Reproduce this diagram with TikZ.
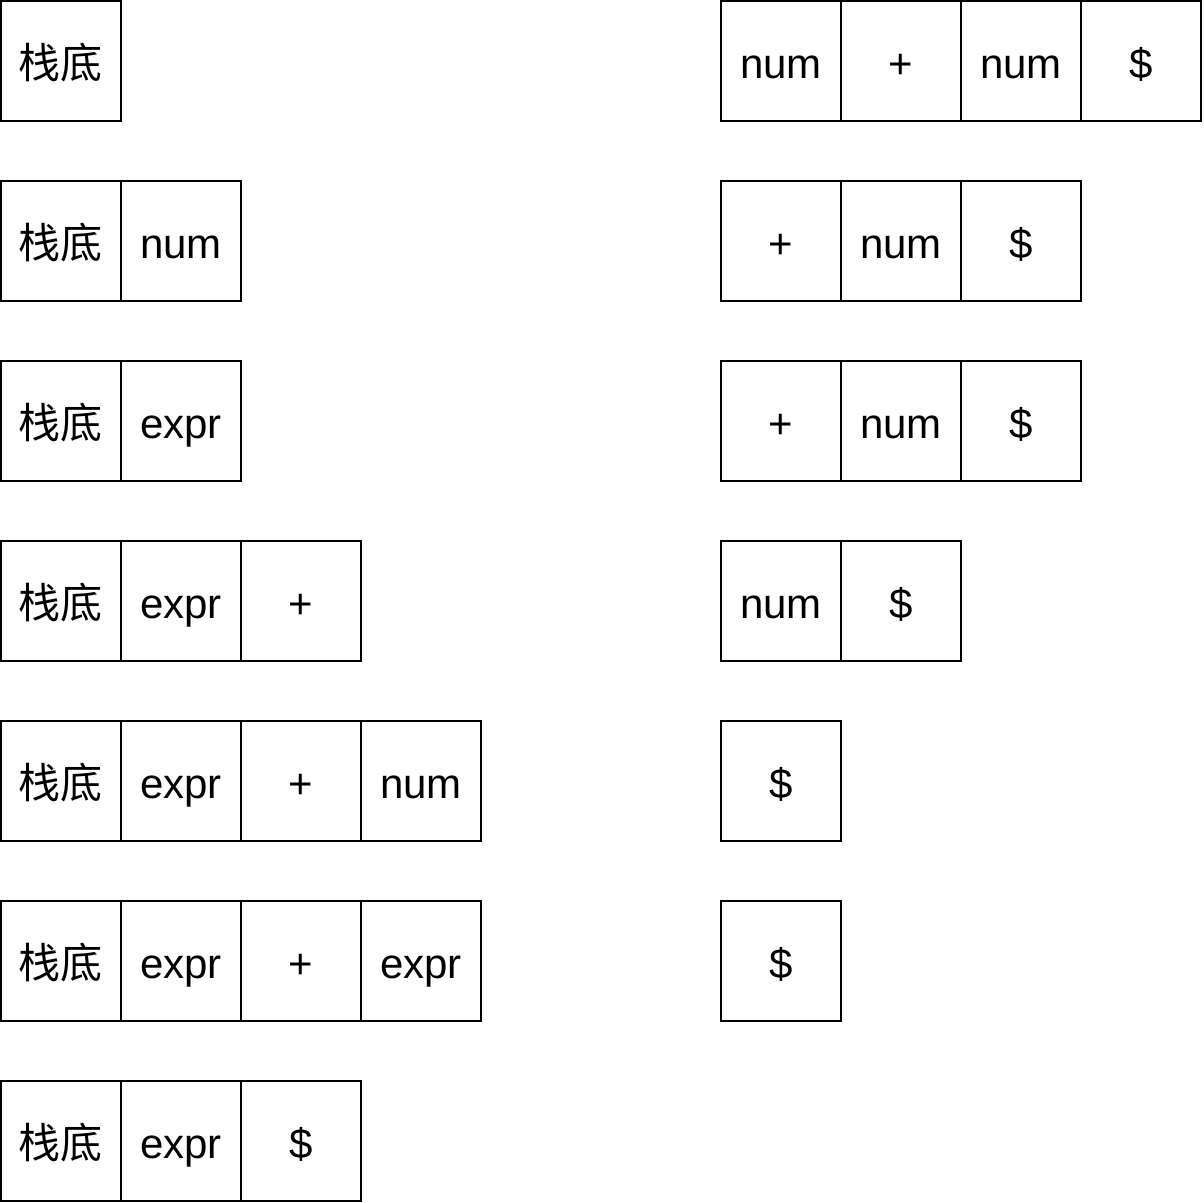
\documentclass[tikz,border=0pt]{standalone}
\usepackage{fontspec}
\setmainfont{Liberation Sans}
\newfontfamily\cjk{Noto Sans CJK SC}
\usepackage{tikz}
\usetikzlibrary{positioning}

\begin{document}
\begin{tikzpicture}[
    x=1pt, y=1pt,
    node distance=0pt,
    cell/.style={rectangle, draw=black, line width=2.2pt, minimum width=120pt, minimum height=120pt, inner sep=0pt, outer sep=0pt, text height=40pt, text depth=5pt, font=\fontsize{42}{48}\selectfont},
    bottom/.style={cell, font=\cjk\fontsize{42}{48}\selectfont}
]
    \useasboundingbox (0,0) rectangle (1203,-1203);

    % Stack
    \node[bottom] (s1a) at (61,-61) {栈底};

    \node[bottom] (s2a) at (61,-241) {栈底};
    \node[cell, right=of s2a] (s2b) {num};

    \node[bottom] (s3a) at (61,-421) {栈底};
    \node[cell, right=of s3a] (s3b) {expr};

    \node[bottom] (s4a) at (61,-601) {栈底};
    \node[cell, right=of s4a] (s4b) {expr};
    \node[cell, right=of s4b] (s4c) {+};

    \node[bottom] (s5a) at (61,-781) {栈底};
    \node[cell, right=of s5a] (s5b) {expr};
    \node[cell, right=of s5b] (s5c) {+};
    \node[cell, right=of s5c] (s5d) {num};

    \node[bottom] (s6a) at (61,-961) {栈底};
    \node[cell, right=of s6a] (s6b) {expr};
    \node[cell, right=of s6b] (s6c) {+};
    \node[cell, right=of s6c] (s6d) {expr};

    \node[bottom] (s7a) at (61,-1141) {栈底};
    \node[cell, right=of s7a] (s7b) {expr};
    \node[cell, right=of s7b] (s7c) {\$};

    % Input
    \node[cell] (in1a) at (781,-61) {num};
    \node[cell, right=of in1a] (in1b) {+};
    \node[cell, right=of in1b] (in1c) {num};
    \node[cell, right=of in1c] (in1d) {\$};

    \node[cell] (in2a) at (781,-241) {+};
    \node[cell, right=of in2a] (in2b) {num};
    \node[cell, right=of in2b] (in2c) {\$};

    \node[cell] (in3a) at (781,-421) {+};
    \node[cell, right=of in3a] (in3b) {num};
    \node[cell, right=of in3b] (in3c) {\$};

    \node[cell] (in4a) at (781,-601) {num};
    \node[cell, right=of in4a] (in4b) {\$};

    \node[cell] (in5a) at (781,-781) {\$};

    \node[cell] (in6a) at (781,-961) {\$};
\end{tikzpicture}
\end{document}
